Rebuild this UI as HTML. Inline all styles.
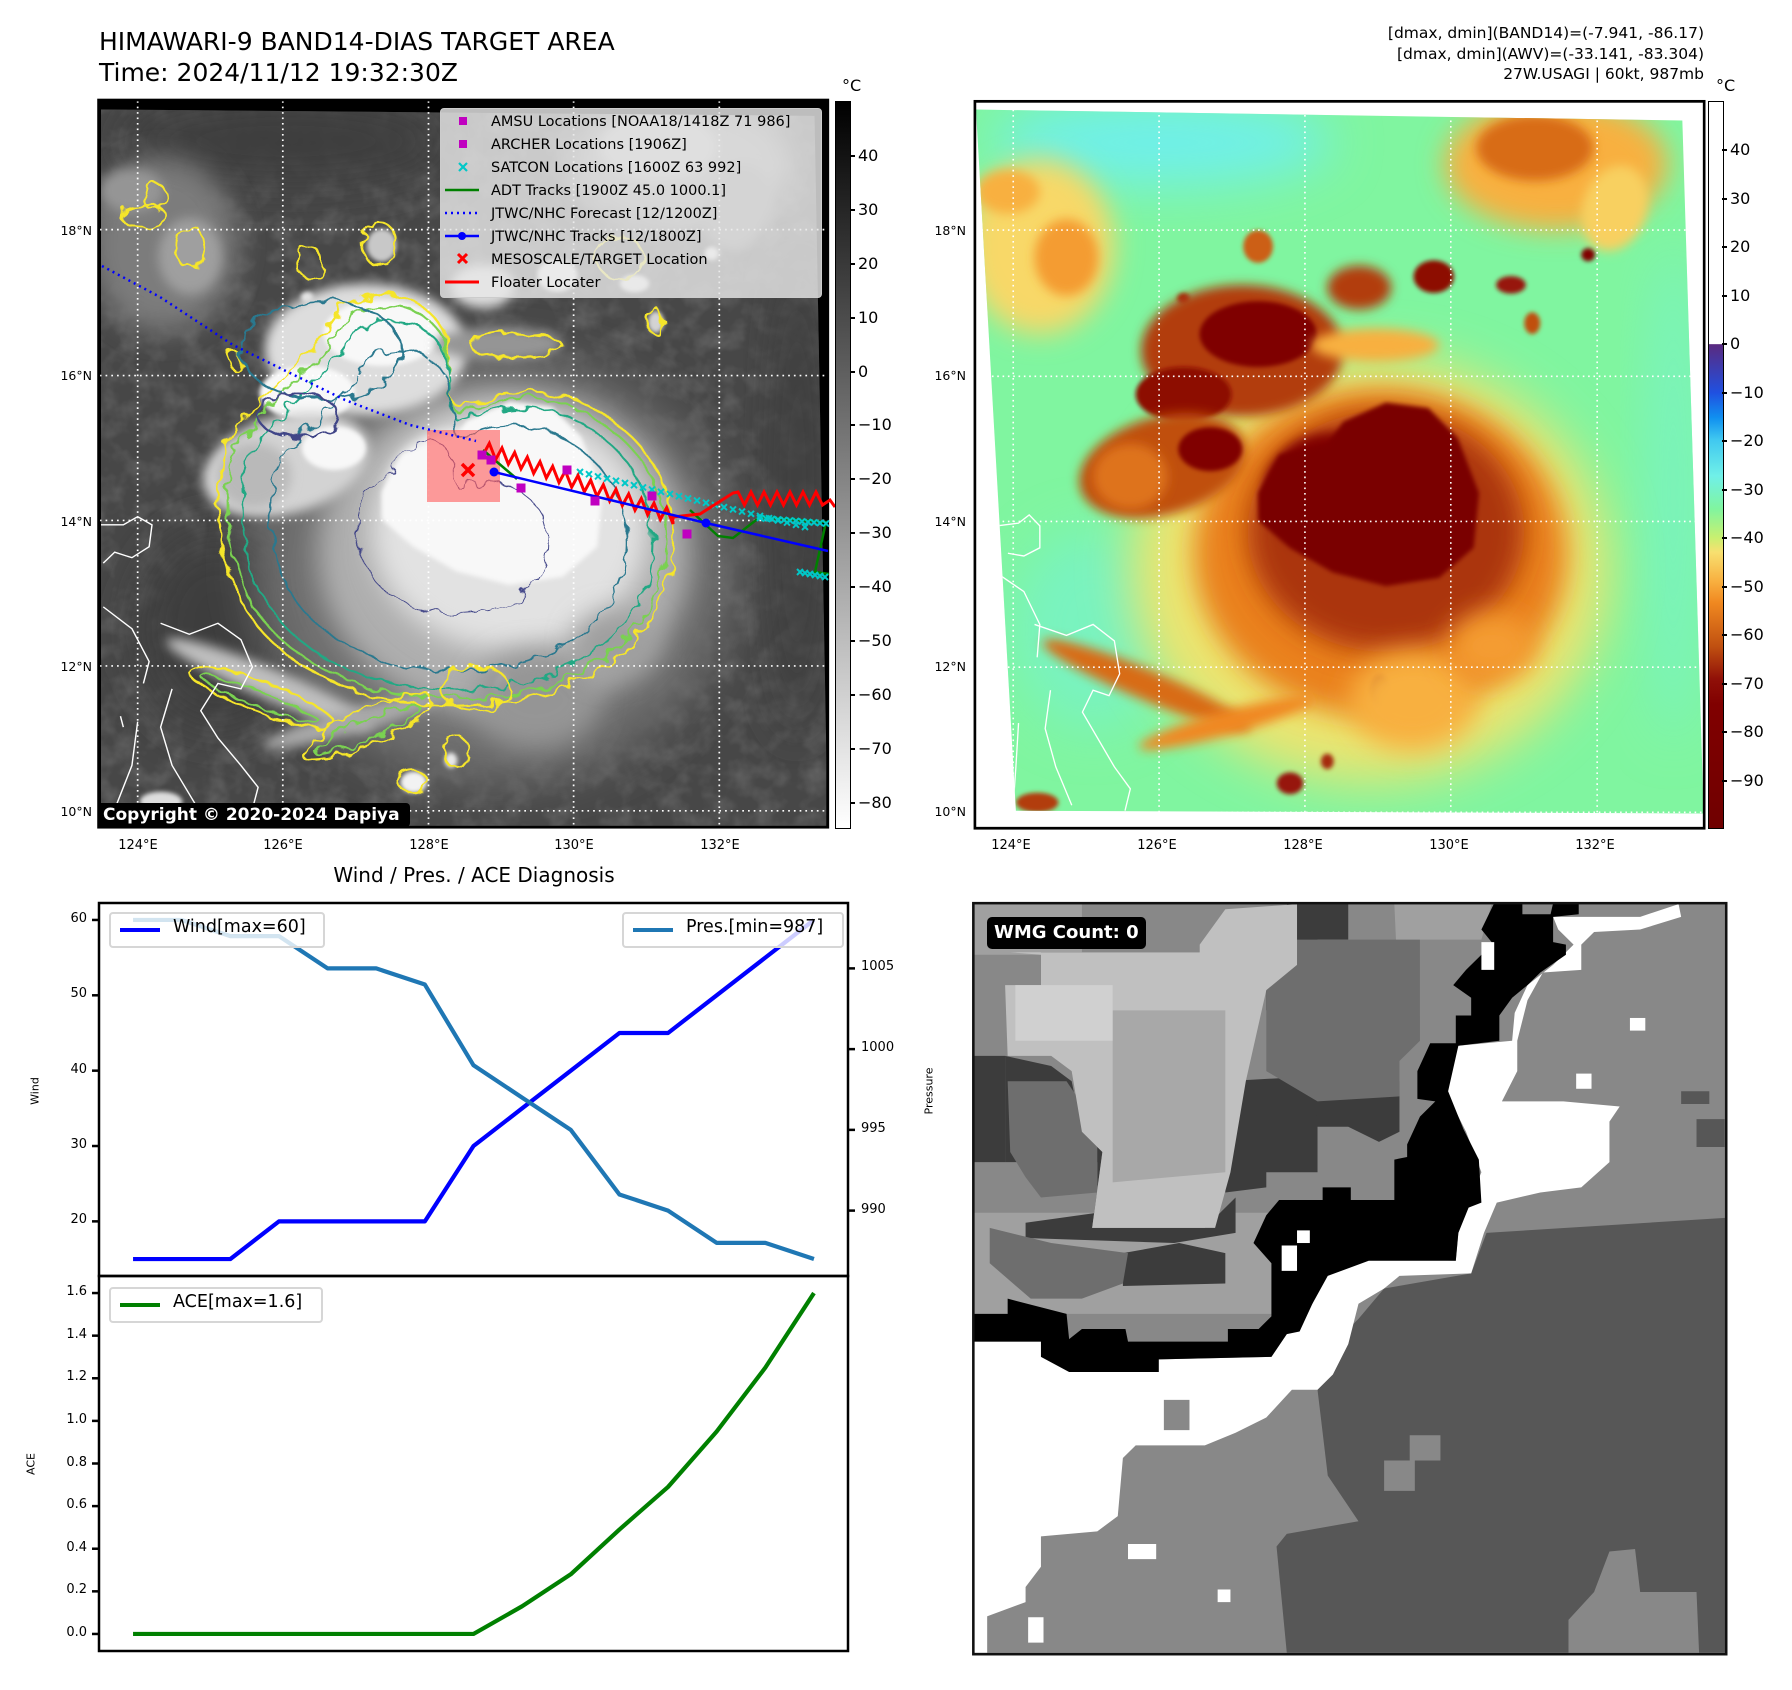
<!DOCTYPE html>
<html><head><meta charset="utf-8">
<style>
html,body{margin:0;padding:0;background:#fff;}
body{width:1792px;height:1690px;position:relative;overflow:hidden;font-family:"DejaVu Sans","Liberation Sans",sans-serif;color:#000;}
.a{position:absolute;white-space:nowrap;}
svg{position:absolute;overflow:hidden;}
.tk{font-size:13px;}
.cb{font-size:16px;}
</style></head>
<body>
<div class="a" style="left:99px;top:26px;font-size:25px;line-height:31px;">HIMAWARI-9 BAND14-DIAS TARGET AREA<br>Time: 2024/11/12 19:32:30Z</div>
<div class="a" style="right:88px;top:23px;font-size:15.5px;line-height:20.5px;text-align:right;">[dmax, dmin](BAND14)=(-7.941, -86.17)<br>[dmax, dmin](AWV)=(-33.141, -83.304)<br>27W.USAGI | 60kt, 987mb</div>

<svg id="lmap" style="left:0;top:0;width:900px;height:860px" viewBox="0 0 1569 1573" preserveAspectRatio="none">
<defs>
<clipPath id="lclip"><polygon points="176,200 1420,212 1443,1513 245,1513 176,1513"/></clipPath>
<clipPath id="rclip"><polygon points="30,200 1357,220 1397,1485 105,1480"/></clipPath>
<filter id="b10" x="-50%" y="-50%" width="200%" height="200%"><feGaussianBlur stdDeviation="10"/></filter>
<filter id="b25" x="-50%" y="-50%" width="200%" height="200%"><feGaussianBlur stdDeviation="25"/></filter>
<filter id="b45" x="-50%" y="-50%" width="200%" height="200%"><feGaussianBlur stdDeviation="45"/></filter>
<filter id="b4" x="-50%" y="-50%" width="200%" height="200%"><feGaussianBlur stdDeviation="4"/></filter>
<filter id="wig" x="-20%" y="-20%" width="140%" height="140%"><feTurbulence type="fractalNoise" baseFrequency="0.035" numOctaves="2" seed="3"/><feDisplacementMap in="SourceGraphic" scale="28"/></filter>
<filter id="noise" x="0" y="0" width="100%" height="100%"><feTurbulence type="fractalNoise" baseFrequency="0.025" numOctaves="3" seed="7"/><feColorMatrix type="matrix" values="0 0 0 0 1  0 0 0 0 1  0 0 0 0 1  0 0 0 0.9 -0.35"/></filter>
</defs>
<rect x="172" y="183" width="1271" height="1330" fill="#000"/>
<g clip-path="url(#lclip)">
<rect x="0" y="0" width="1569" height="1573" fill="#474747"/>
<rect x="0" y="0" width="1569" height="1573" filter="url(#noise)" opacity="0.3"/>
<g id="lblobs" transform="matrix(0.9277,0,0,1.0023,146.0,-2.4)"></g>
<g id="lcont" fill="none" stroke-width="4" filter="url(#wig)"></g>
<g id="coastL" fill="none" stroke="#fff" stroke-width="2.5"></g>
</g>
<g id="lgrid" stroke="#fff" stroke-width="3" stroke-dasharray="3,7"></g>
<rect x="172" y="183" width="1271" height="1330" fill="none" stroke="#000" stroke-width="5"/>
</svg>

<svg id="rmap" style="left:960px;top:0;width:832px;height:860px" viewBox="0 0 1563 1570" preserveAspectRatio="none">
<rect x="28" y="185" width="1370" height="1327" fill="#fff"/>
<g clip-path="url(#rclip)">
<rect x="0" y="0" width="1563" height="1570" id="rbg"/>
<g id="rblobs"></g>
<g id="coastR" fill="none" stroke="#fff" stroke-width="2.5"></g>
</g>
<g id="rgrid" stroke="#fff" stroke-width="3" stroke-dasharray="3,7"></g>
<rect x="28" y="185" width="1370" height="1327" fill="none" stroke="#000" stroke-width="5"/>
</svg>

<svg id="ovl" style="left:0;top:0;width:900px;height:900px" viewBox="0 0 900 900">
<rect x="427" y="430" width="73" height="72" fill="#ff5a5a" opacity="0.6"/>
<polyline points="102,266 160,297 233,345 290,373 345,400 410,425 476,441" fill="none" stroke="#0000ff" stroke-width="2.5" stroke-dasharray="2,4"/>
<polyline points="483,450 517,479" fill="none" stroke="#008000" stroke-width="2.5"/>
<polyline points="690,510 718,536 733,538 760,517 826,522 815,572 829,574" fill="none" stroke="#008000" stroke-width="2.5"/>
<g id="satcon" fill="none" stroke="#00c8c8" stroke-width="2"></g>
<polyline id="floater" fill="none" stroke="#ff0000" stroke-width="3"/>
<polyline points="494,472 706,523 828,551" fill="none" stroke="#0000ff" stroke-width="2.5"/>
<circle cx="494" cy="472" r="4.5" fill="#0000ff"/><circle cx="706" cy="523" r="4.5" fill="#0000ff"/>
<g id="amsu" fill="#c000c0"></g>
<g stroke="#ff0000" stroke-width="3.5"><line x1="462" y1="464" x2="474" y2="476"/><line x1="474" y1="464" x2="462" y2="476"/></g>
</svg>

<div class="a" style="left:440px;top:108px;width:380px;height:188px;background:rgba(230,230,230,0.82);border:1px solid #ccc;border-radius:4px;font-size:14.5px;">
<svg style="left:0;top:0;width:380px;height:188px" viewBox="0 0 380 188">
<rect x="18" y="8" width="8" height="8" fill="#c000c0"/>
<rect x="18" y="31" width="8" height="8" fill="#c000c0"/>
<g stroke="#00c8c8" stroke-width="2.2"><line x1="18" y1="54" x2="26" y2="62"/><line x1="26" y1="54" x2="18" y2="62"/></g>
<line x1="4" y1="81" x2="38" y2="81" stroke="#008000" stroke-width="2.5"/>
<line x1="4" y1="104" x2="38" y2="104" stroke="#0000ff" stroke-width="2.5" stroke-dasharray="2,4"/>
<line x1="4" y1="127" x2="38" y2="127" stroke="#0000ff" stroke-width="2.5"/><circle cx="21" cy="127" r="4" fill="#0000ff"/>
<g stroke="#ff0000" stroke-width="3"><line x1="17" y1="145" x2="26" y2="154"/><line x1="26" y1="145" x2="17" y2="154"/></g>
<line x1="4" y1="173" x2="38" y2="173" stroke="#ff0000" stroke-width="3"/>
</svg>
<div class="a" style="left:50px;top:2px;line-height:23px;">AMSU Locations [NOAA18/1418Z 71 986]<br>ARCHER Locations [1906Z]<br>SATCON Locations [1600Z 63 992]<br>ADT Tracks [1900Z 45.0 1000.1]<br>JTWC/NHC Forecast [12/1200Z]<br>JTWC/NHC Tracks [12/1800Z]<br>MESOSCALE/TARGET Location<br>Floater Locater</div>
</div>
<div class="a" style="left:99px;top:803px;width:311px;height:24px;background:#000;color:#fff;font-weight:bold;font-size:17px;line-height:24px;padding-left:4px;box-sizing:border-box;border-radius:0 4px 4px 0;">Copyright © 2020-2024 Dapiya</div>

<div class="a" style="left:835px;top:101px;width:14px;height:726px;border:1px solid #000;background:linear-gradient(#000,#fff);"></div>
<div class="a" style="left:1708px;top:101px;width:14px;height:726px;border:1px solid #000;background:linear-gradient(#fff 0%,#fff 33.3%,#5a2a80 33.4%,#2050e0 40%,#1090f0 43.5%,#40c8f0 46.5%,#70f0e8 51.5%,#80f5a0 56%,#c8f070 60%,#f8e070 62%,#f8b040 66%,#f08820 69%,#c05010 75%,#901008 79.5%,#800000 83%,#700000 100%);"></div>
<div class="a cb" style="left:842px;top:76px;">°C</div>
<div class="a cb" style="left:1716px;top:76px;">°C</div>

<div class="a" style="left:474px;top:863px;transform:translateX(-50%);font-size:20px;">Wind / Pres. / ACE Diagnosis</div>
<svg id="chart" style="left:0;top:880px;width:960px;height:810px" viewBox="0 880 960 810"></svg>

<svg id="wmg" style="left:959px;top:889px;width:800px;height:790px" viewBox="0 0 1562 1562" preserveAspectRatio="none">
<rect x="28" y="28" width="1470" height="1485" fill="#888"/>
<polygon fill="#a0a0a0" points="30,30 240,30 240,130 30,130"/>
<polygon fill="#a0a0a0" points="30,640 620,640 620,840 30,840"/>
<polygon fill="#a0a0a0" points="850,30 1040,30 1020,100 900,100 900,250 860,250"/>
<polygon fill="#3c3c3c" points="30,330 90,330 90,540 30,540"/>
<polygon fill="#3c3c3c" points="30,540 270,540 270,640 130,660 130,690 420,700 540,680 540,610 480,670 260,670 280,520 240,480 220,380 180,350 90,330 90,540"/>
<polygon fill="#3c3c3c" points="160,125 470,125 470,190 340,190 340,215 310,215 310,190 160,190"/>
<polygon fill="#3c3c3c" points="320,720 430,700 520,720 520,780 320,785"/>
<polygon fill="#3c3c3c" points="520,380 700,370 700,560 600,560 600,590 520,600"/>
<polygon fill="#3c3c3c" points="640,30 760,30 760,100 700,100 700,160 650,190 600,240 600,160 650,150"/>
<polygon fill="#3c3c3c" points="690,360 860,380 860,480 820,500 760,470 700,470"/>
<polygon fill="#6e6e6e" points="95,380 210,380 270,470 270,600 160,610 130,570 100,520"/>
<polygon fill="#6e6e6e" points="600,100 900,100 900,300 860,340 860,410 700,420 600,360"/>
<polygon fill="#6e6e6e" points="60,670 180,700 330,720 320,780 240,810 140,810 60,740"/>
<polygon fill="#c0c0c0" points="100,125 470,125 470,110 520,40 660,30 660,150 600,200 560,380 530,560 500,670 260,670 280,520 240,480 220,360 180,330 95,330 90,190 160,190 160,130"/>
<polygon fill="#a8a8a8" points="300,240 520,240 520,560 300,580"/>
<polygon fill="#d0d0d0" points="110,190 300,190 300,300 110,300"/>
<polygon fill="#575757" points="1030,680 1500,650 1500,1510 1445,1510 1440,1390 1330,1390 1320,1305 1270,1310 1240,1390 1190,1445 1190,1510 640,1510 620,1300 640,1275 780,1250 720,1160 700,990 740,930 730,900 780,850 830,790 1000,760"/>
<polygon fill="#575757" points="1410,400 1465,400 1465,425 1410,425"/><polygon fill="#575757" points="1440,455 1495,455 1495,510 1440,510"/>
<polygon fill="#888" points="880,1080 940,1080 940,1130 880,1130"/><polygon fill="#888" points="830,1130 890,1130 890,1190 830,1190"/>
<polygon fill="#fff" points="30,895 160,895 220,955 390,955 390,930 610,925 640,880 690,820 710,760 800,730 970,735 975,680 995,620 1020,560 990,480 960,420 920,400 920,360 975,310 1080,300 1085,245 1110,190 1160,150 1200,110 1170,80 1160,55 1330,55 1405,30 1410,55 1330,80 1240,85 1215,110 1215,160 1140,165 1110,220 1090,300 1090,360 1060,420 1180,420 1290,430 1270,460 1270,540 1215,590 1135,600 1050,620 1025,680 1000,760 860,765 830,790 780,820 760,900 730,960 700,990 650,990 600,1045 540,1075 480,1100 345,1100 320,1125 310,1240 270,1270 160,1280 160,1340 130,1380 130,1410 50,1440 30,1440"/>
<polygon fill="#fff" points="30,1430 55,1430 55,1510 30,1510"/><polygon fill="#fff" points="135,1440 165,1440 165,1490 135,1490"/>
<polygon fill="#fff" points="505,1385 530,1385 530,1410 505,1410"/><polygon fill="#fff" points="1310,255 1340,255 1340,280 1310,280"/>
<polygon fill="#fff" points="330,1295 385,1295 385,1325 330,1325"/><polygon fill="#fff" points="1205,365 1235,365 1235,395 1205,395"/>
<polygon fill="#888" points="400,1010 450,1010 450,1070 400,1070"/>
<polygon fill="#000" points="30,840 95,840 95,810 210,840 215,890 240,870 325,870 330,895 525,895 525,870 585,870 610,845 610,740 575,700 600,645 625,615 710,615 710,590 765,590 765,615 850,615 850,535 875,530 875,505 900,450 930,420 895,415 895,360 920,305 970,305 970,250 1000,250 1000,215 965,190 990,160 1020,130 1040,105 1020,80 1045,28 1100,28 1100,50 1155,50 1160,28 1210,28 1210,50 1160,55 1160,105 1185,110 1185,130 1135,165 1110,190 1080,215 1055,250 1055,300 975,310 955,400 985,475 1015,535 1020,620 995,630 975,680 970,735 800,735 720,765 690,820 665,875 640,880 610,925 390,930 390,955 215,955 160,925 160,895 30,895"/>
<polygon fill="#fff" points="630,705 660,705 660,755 630,755"/><polygon fill="#fff" points="660,675 685,675 685,700 660,700"/>
<polygon fill="#fff" points="1020,105 1045,105 1045,160 1020,160"/>
<rect x="28" y="28" width="1470" height="1485" fill="none" stroke="#111" stroke-width="5"/>
</svg>
<div class="a" style="left:987px;top:917px;height:32px;padding:0 7px;background:#000;color:#fff;font-weight:bold;font-size:18px;line-height:32px;border-radius:5px;">WMG Count: 0</div>

<script>
const steps = [0,1,2,3,4,5,6,7,8,9,10,11,12,13,14];
const windValues = [15,15,15,20,20,20,20,30,35,40,45,45,50,55,60];
const presValues = [1008,1008,1007,1007,1005,1005,1004,999,997,995,991,990,988,988,987];
const aceValues = [0,0,0,0,0,0,0,0,0.13,0.28,0.49,0.69,0.95,1.25,1.6];
const windTicks = [20,30,40,50,60];
const presTicks = [990,995,1000,1005];
const aceTicks = [0.0,0.2,0.4,0.6,0.8,1.0,1.2,1.4,1.6];

const NS='http://www.w3.org/2000/svg';
function mk(parent, tag, attrs){const e=document.createElementNS(NS,tag);for(const k in attrs)e.setAttribute(k,attrs[k]);parent.appendChild(e);return e;}
function div(html, style){const d=document.createElement('div');d.className='a';d.innerHTML=html;d.setAttribute('style',style);document.body.appendChild(d);return d;}

const chart=document.getElementById('chart');
const L=99,R=848,T1=903,M=1276,B2=1651;
function ext(arr){let mn=Math.min(...arr),mx=Math.max(...arr),p=(mx-mn)*0.05;return [mn-p,mx+p];}
const xr=ext(steps);
const sx=v=>L+(v-xr[0])/(xr[1]-xr[0])*(R-L);
const wr=ext(windValues), pr=ext(presValues), ar=ext(aceValues);
const syW=v=>M-(v-wr[0])/(wr[1]-wr[0])*(M-T1);
const syP=v=>M-(v-pr[0])/(pr[1]-pr[0])*(M-T1);
const syA=v=>B2-(v-ar[0])/(ar[1]-ar[0])*(B2-M);

function series(vals, sy, color, name){
  const p=mk(chart,'polyline',{points:vals.map((v,i)=>sx(steps[i])+','+sy(v)).join(' '),fill:'none',stroke:color,'stroke-width':4.2,'stroke-linejoin':'round'});
  
  
}
series(windValues, syW, '#0000ff', 'wind-line');
series(presValues, syP, '#1f77b4', 'pressure-line');
series(aceValues, syA, '#008000', 'ace-line');

function ytick(y, x1, x2, label, side){
  mk(chart,'line',{x1:x1,x2:x2,y1:y,y2:y,stroke:'#000','stroke-width':2.5});
  const d=div(label, side==='l' ? `right:${1792-x1+5}px;top:${y-9}px;font-size:13px;` : `left:${x2+6}px;top:${y-9}px;font-size:13px;`);
  
  
}
windTicks.forEach(v=>ytick(syW(v),L-7,L,String(v),'l'));
presTicks.forEach(v=>ytick(syP(v),R,R+7,String(v),'r'));
aceTicks.forEach(v=>ytick(syA(v),L-7,L,v.toFixed(1),'l'));
mk(chart,'rect',{x:L,y:T1,width:R-L,height:M-T1,fill:'none',stroke:'#000','stroke-width':2.5});
mk(chart,'rect',{x:L,y:M,width:R-L,height:B2-M,fill:'none',stroke:'#000','stroke-width':2.5});

function vlabel(txt,x,y,name){const d=div(txt,`left:${x}px;top:${y}px;font-size:11px;transform:translate(-50%,-50%) rotate(-90deg);`);}
vlabel('Wind',35,1091,'wind-axis-title');
vlabel('Pressure',929,1091,'pressure-axis-title');
vlabel('ACE',31,1464,'ace-axis-title');

function legend(x,y,w,color,txt,name){
  const d=div(`<span style="position:absolute;left:9px;top:14px;width:40px;height:4px;background:${color}"></span><span style="position:absolute;left:62px;top:3px">${txt}</span>`,
   `left:${x}px;top:${y}px;width:${w}px;height:32px;background:rgba(255,255,255,0.8);border:2px solid #d6d6d6;border-radius:4px;font-size:17.5px;`);
  
}
legend(109,912,212,'#0000ff','Wind[max=60]','wind-legend');
legend(622,912,218,'#1f77b4','Pres.[min=987]','pressure-legend');
legend(109,1287,210,'#008000','ACE[max=1.6]','ace-legend');

const cbLeftTicks=[40,30,20,10,0,-10,-20,-30,-40,-50,-60,-70,-80];
const cbRightTicks=[40,30,20,10,0,-10,-20,-30,-40,-50,-60,-70,-80,-90];
function cbt(x,y,v){div((v<0?'\u2212'+(-v):v),`left:${x}px;top:${y-10}px;font-size:16px;`);}
cbLeftTicks.forEach(v=>{const y=101+(50.2-v)*5.39;cbt(858,y,v);div('',`left:850px;top:${y-1}px;width:5px;height:2px;background:#000`);});
cbRightTicks.forEach(v=>{const y=150+(40-v)*4.854;cbt(1730,y,v);div('',`left:1722px;top:${y-1}px;width:5px;height:2px;background:#000`);});

const latLabels=['18°N','16°N','14°N','12°N','10°N'];
const latY=[231,376,522,667,812];
const lonLabels=['124°E','126°E','128°E','130°E','132°E'];
const lonXL=[138,283,429,574,720];
const lonXR=[1011,1157,1303,1449,1595];
latLabels.forEach((t,i)=>{div(t,`right:${1792-92}px;top:${latY[i]-8}px;font-size:12.5px;`);div(t,`right:${1792-966}px;top:${latY[i]-8}px;font-size:12.5px;`);});
lonLabels.forEach((t,i)=>{div(t,`left:${lonXL[i]}px;top:838px;font-size:13px;transform:translateX(-50%)`);div(t,`left:${lonXR[i]}px;top:838px;font-size:13px;transform:translateX(-50%)`);});

const lg=document.getElementById('lgrid');
[240,493,747,1000,1254].forEach(x=>mk(lg,'line',{x1:x,x2:x,y1:185,y2:1511}));
[420,687,952,1218,1483].forEach(y=>mk(lg,'line',{x1:174,x2:1441,y1:y,y2:y}));
const rg=document.getElementById('rgrid');
[100,374,648,922,1197].forEach(x=>mk(rg,'line',{x1:x,x2:x,y1:200,y2:1485}));
[420,687,952,1218,1483].forEach(y=>mk(rg,'line',{x1:30,x2:1396,y1:y,y2:y}));

function lerpHex(a,b,t){const pa=[1,3,5].map(i=>parseInt(a.substr(i,2),16)),pb=[1,3,5].map(i=>parseInt(b.substr(i,2),16));return 'rgb('+pa.map((v,i)=>Math.round(v+(pb[i]-v)*t)).join(',')+')';}
const stops=[[0,'#5a2a80'],[-10,'#2050e0'],[-15,'#1090f0'],[-20,'#40c8f0'],[-26,'#70f0e8'],[-33,'#80f5a0'],[-38,'#c8f070'],[-42,'#f8e070'],[-48,'#f8b040'],[-52,'#f08820'],[-60,'#c05010'],[-67,'#901008'],[-72,'#800000'],[-100,'#700000']];
function turbo(t){if(t>=0)return '#ffffff';for(let i=0;i<stops.length-1;i++){if(t<=stops[i][0]&&t>=stops[i+1][0]){return lerpHex(stops[i][1],stops[i+1][1],(stops[i][0]-t)/(stops[i][0]-stops[i+1][0]));}}return '#700000';}
function gray(t){let g=71+(-33-t)/35*181;g=Math.max(60,Math.min(248,g));g=Math.round(g);return `rgb(${g},${g},${g})`;}
document.getElementById('rbg').setAttribute('fill',turbo(-33));

const blobs=[
[380,260,320,80,-26,'b45',0],[1340,900,50,450,-30,'b45',0],[250,1150,150,180,-30,'b45',0],
[150,450,140,160,-43,'b25',0],[200,470,60,70,-50,'b10',0],[90,350,60,40,-48,'b10',0],
[1120,300,210,120,-48,'b25',0],[1080,270,110,60,-56,'b10',0],[1230,380,60,80,-44,'b10',20],
[560,450,28,30,-58,'b4',0],[750,525,60,40,-62,'b10',0],[890,505,38,30,-68,'b4',0],[1180,465,13,12,-72,'b4',0],[1035,520,28,16,-66,'b4',0],[1075,590,15,20,-60,'b4',0],[420,545,12,10,-65,'b4',0],
[770,1040,450,390,-41,'b45',0],[790,1010,350,300,-53,'b25',0],[800,970,260,220,-63,'b25',0],
[530,640,190,120,-62,'b10',0],[560,610,110,60,-74,'b4',0],[420,720,90,50,-68,'b4',0],
[380,850,160,90,-60,'b10',-15],[320,870,70,60,-55,'b10',0],[470,820,60,40,-72,'b4',0],[700,900,130,110,-72,'b10',0],
[350,1250,210,28,-56,'b10',22],[500,1320,170,22,-52,'b10',-15],[620,1430,25,20,-66,'b4',0],[790,1260,18,28,-68,'b4',0],[690,1390,12,14,-64,'b4',0],
[850,1280,120,90,-48,'b25',0],[1000,1180,80,60,-50,'b25',0],[780,630,120,30,-48,'b10',0],[145,1465,40,18,-62,'b4',0]
];
const corePts="560,900 600,830 690,810 720,770 800,735 880,745 935,800 975,900 965,1000 900,1055 800,1070 700,1045 620,1000 560,950";
function drawBlobs(gid, cmap){
  const g=document.getElementById(gid);
  blobs.forEach(b=>{mk(g,'ellipse',{cx:b[0],cy:b[1],rx:b[2],ry:b[3],fill:cmap(b[4]),filter:'url(#'+b[5]+')',transform:`rotate(${b[6]} ${b[0]} ${b[1]})`});});
  mk(g,'polygon',{points:corePts,fill:cmap(-82),filter:'url(#b4)'});
}
drawBlobs('rblobs',turbo);
drawBlobs('lblobs',gray);

const lc=document.getElementById('lcont');
const stormPath="M380,880 C380,760 520,700 600,560 C650,520 740,540 770,600 C800,680 760,760 820,740 C900,700 1000,710 1080,780 C1180,860 1190,1000 1160,1080 C1120,1200 1000,1280 820,1290 C640,1300 480,1220 420,1100 C380,1020 380,960 380,880 Z";
[[1,'#f5e52a'],[0.96,'#7ad151'],[0.9,'#22a884'],[0.78,'#2a788e'],[0.42,'#414487']].forEach(c=>{
  const cx=800,cy=1000;mk(lc,'path',{d:stormPath,stroke:c[1],transform:`translate(${cx} ${cy}) scale(${c[0]}) translate(${-cx} ${-cy})`});
});
const ylw=[[660,445,30,40,0],[540,480,20,30,0],[270,360,20,25,0],[330,450,25,40,0],[410,660,12,15,0],[1140,585,15,22,0],[900,632,80,22,0],[795,1375,20,30,0],[720,1430,25,20,0],[455,1275,140,28,22],[640,1330,125,30,-25],[830,1260,60,40,0],[250,395,40,20,0],[1080,470,40,40,0]];
ylw.forEach(e=>{mk(lc,'ellipse',{cx:e[0],cy:e[1],rx:e[2],ry:e[3],stroke:'#f5e52a',transform:`rotate(${e[4]} ${e[0]} ${e[1]})`});});
[[455,1280,110,14,22,'#7ad151'],[640,1335,100,15,-25,'#7ad151'],[560,640,140,90,0,'#2a788e'],[520,760,70,40,0,'#414487']].forEach(e=>{mk(lc,'ellipse',{cx:e[0],cy:e[1],rx:e[2],ry:e[3],stroke:e[5],transform:`rotate(${e[4]} ${e[0]} ${e[1]})`});});

const coastL="M176,960 L215,960 240,945 265,960 260,1000 230,1020 200,1010 180,1030 M180,1110 L230,1150 260,1210 250,1250 M280,1140 L330,1160 380,1140 420,1170 440,1220 420,1260 380,1250 350,1300 380,1350 420,1400 450,1440 440,1480 M300,1260 L280,1330 300,1400 340,1470 M240,1320 L230,1400 200,1480 M210,1310 L215,1330";
mk(document.getElementById('coastL'),'path',{d:coastL});
const coastR="M70,960 L110,955 130,940 150,960 150,1000 120,1015 90,1010 M75,1050 L120,1080 150,1140 145,1200 M140,1140 L200,1160 250,1140 290,1170 300,1230 280,1270 250,1260 230,1300 260,1350 290,1400 320,1440 310,1480 M170,1260 L160,1330 180,1400 210,1470 M110,1320 L105,1400 100,1470";
mk(document.getElementById('coastR'),'path',{d:coastR});

const amsuPts=[[491,460],[482,455],[521,488],[595,501],[652,496],[687,534],[567,470]];
const am=document.getElementById('amsu');
amsuPts.forEach(p=>{const r=mk(am,'rect',{x:p[0]-4.5,y:p[1]-4.5,width:9,height:9});});
let fp=[];const fx0=483,fy0=448,fx1=673,fy1=517;
for(let i=0;i<=30;i++){const t=i/30;fp.push((fx0+(fx1-fx0)*t)+','+(fy0+(fy1-fy0)*t+(i%2?-7:7)));}
fp.push('673,517','700,514','733,493');
for(let i=0;i<14;i++){fp.push((738+i*6.5)+','+(i%2?505:492));}
fp.push('830,500','835,507');
document.getElementById('floater').setAttribute('points',fp.join(' '));
const sc=document.getElementById('satcon');
for(let i=0;i<26;i++){const x=580+i*9,y=472+i*2.2;mk(sc,'path',{d:`M${x-3},${y-3}L${x+3},${y+3}M${x+3},${y-3}L${x-3},${y+3}`});}
for(let i=0;i<12;i++){const x=760+i*6,y=518+i*0.5;mk(sc,'path',{d:`M${x-3},${y-3}L${x+3},${y+3}M${x+3},${y-3}L${x-3},${y+3}`});}
for(let i=0;i<6;i++){const x=800+i*5,y=572+i;mk(sc,'path',{d:`M${x-3},${y-3}L${x+3},${y+3}M${x+3},${y-3}L${x-3},${y+3}`});}
</script>
</body></html>
